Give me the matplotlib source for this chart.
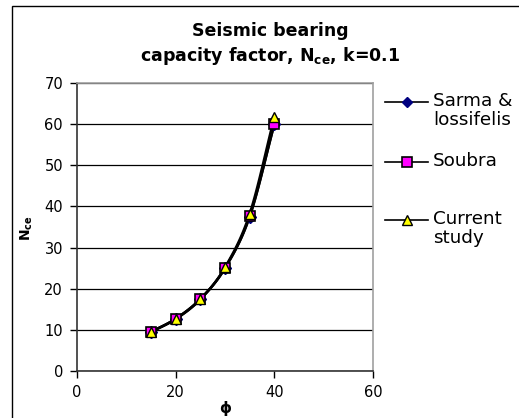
import numpy as np
import matplotlib
matplotlib.use("Agg")
import matplotlib.pyplot as plt
from matplotlib.patches import Rectangle
from matplotlib.lines import Line2D

plt.rcParams['font.family'] = ['DejaVu Sans']
plt.rcParams['mathtext.fontset'] = 'dejavusans'

# data
phi = [15, 20, 25, 30, 35, 40]
sarma = [9.5, 12.7, 17.5, 25.0, 37.5, 60.0]
soubra = [9.5, 12.7, 17.5, 25.0, 37.6, 60.0]
current = [9.5, 12.6, 17.4, 25.2, 38.2, 61.7]

series_names = ['Sarma &\nlossifelis', 'Soubra', 'Current\nstudy']


def smooth(x, y, n=20):
    # Catmull-Rom style curve through the points (like Excel "smoothed line")
    x = np.asarray(x, float)
    y = np.asarray(y, float)
    px = np.concatenate([[2 * x[0] - x[1]], x, [2 * x[-1] - x[-2]]])
    py = np.concatenate([[2 * y[0] - y[1]], y, [2 * y[-1] - y[-2]]])
    xs, ys = [], []
    t = np.linspace(0, 1, n)
    for i in range(1, len(px) - 2):
        for p, out in ((px, xs), (py, ys)):
            p0, p1, p2, p3 = p[i - 1], p[i], p[i + 1], p[i + 2]
            out.extend(0.5 * ((2 * p1) + (-p0 + p2) * t
                              + (2 * p0 - 5 * p1 + 4 * p2 - p3) * t ** 2
                              + (-p0 + 3 * p1 - 3 * p2 + p3) * t ** 3))
    return xs, ys


W, H = 519, 418
fig = plt.figure(figsize=(W / 100, H / 100), dpi=100)


def fx(px):
    return px / W


def fy(py):
    return 1 - py / H


# outer chart border
fig.patches.append(Rectangle((fx(12), -0.05), 1.2, fy(6) + 0.05,
                             transform=fig.transFigure, fill=False,
                             edgecolor='black', linewidth=1.0))

ax = fig.add_axes([fx(77), fy(371), (373 - 77) / W, (371 - 83) / H])

ax.plot(*smooth(phi, sarma), color='black', lw=1.8, zorder=3)
ax.plot(*smooth(phi, soubra), color='black', lw=1.8, zorder=3)
ax.plot(*smooth(phi, current), color='black', lw=1.8, zorder=3)
ax.plot(phi, sarma, ls='none', marker='D', ms=6, color='#000080', zorder=4)
ax.plot(phi, soubra, ls='none', marker='s', ms=7.5, mfc='#FF00FF', mec='black', mew=1.2, zorder=5)
ax.plot(phi, current, ls='none', marker='^', ms=7, mfc='#FFFF00', mec='black', mew=1.0, zorder=6)

ax.set_xlim(0, 60)
ax.set_ylim(0, 70)
ax.set_xticks([0, 20, 40, 60])
ax.set_yticks(range(0, 71, 10))
ax.yaxis.grid(True, color='black', lw=0.9)
ax.set_axisbelow(True)
ax.tick_params(labelsize=10.5, length=5, direction='out', width=1, colors='black', pad=5)
for s in ('top', 'right'):
    ax.spines[s].set_color('#a0a0a0')
    ax.spines[s].set_linewidth(1.2)
for s in ('left', 'bottom'):
    ax.spines[s].set_color('#333333')
    ax.spines[s].set_linewidth(1.2)

fig.text(fx(225), fy(408), 'ϕ', ha='center', va='center', fontsize=11, fontweight='bold')
fig.text(fx(27), fy(228), r'$\mathbf{N_{ce}}$', ha='center', va='center',
         fontsize=10, rotation=90)

fig.text(fx(270), fy(31), 'Seismic bearing', ha='center', va='center',
         fontsize=12.5, fontweight='bold')
fig.text(fx(270), fy(56), r'capacity factor, N$_{\mathbf{ce}}$, k=0.1',
         ha='center', va='center', fontsize=12.5, fontweight='bold')

# legend drawn by hand: marker aligned with first text line, like Excel
legend_y = [102, 162, 220]
legend_styles = [
    dict(marker='D', ms=5.5, mfc='#000080', mec='#000080'),
    dict(marker='s', ms=7, mfc='#FF00FF', mec='black', mew=1.2),
    dict(marker='^', ms=6.5, mfc='#FFFF00', mec='black', mew=1.0),
]
for name, ly, st in zip(series_names, legend_y, legend_styles):
    fig.add_artist(Line2D([fx(385), fx(428)], [fy(ly), fy(ly)], color='black',
                          lw=1.2, transform=fig.transFigure))
    fig.add_artist(Line2D([fx(406.5)], [fy(ly)], ls='none',
                          transform=fig.transFigure, **st))
    fig.text(fx(433), fy(ly - 10), name, ha='left', va='top', fontsize=13.2,
             linespacing=1.1)

fig.savefig('out.png', dpi=100)
